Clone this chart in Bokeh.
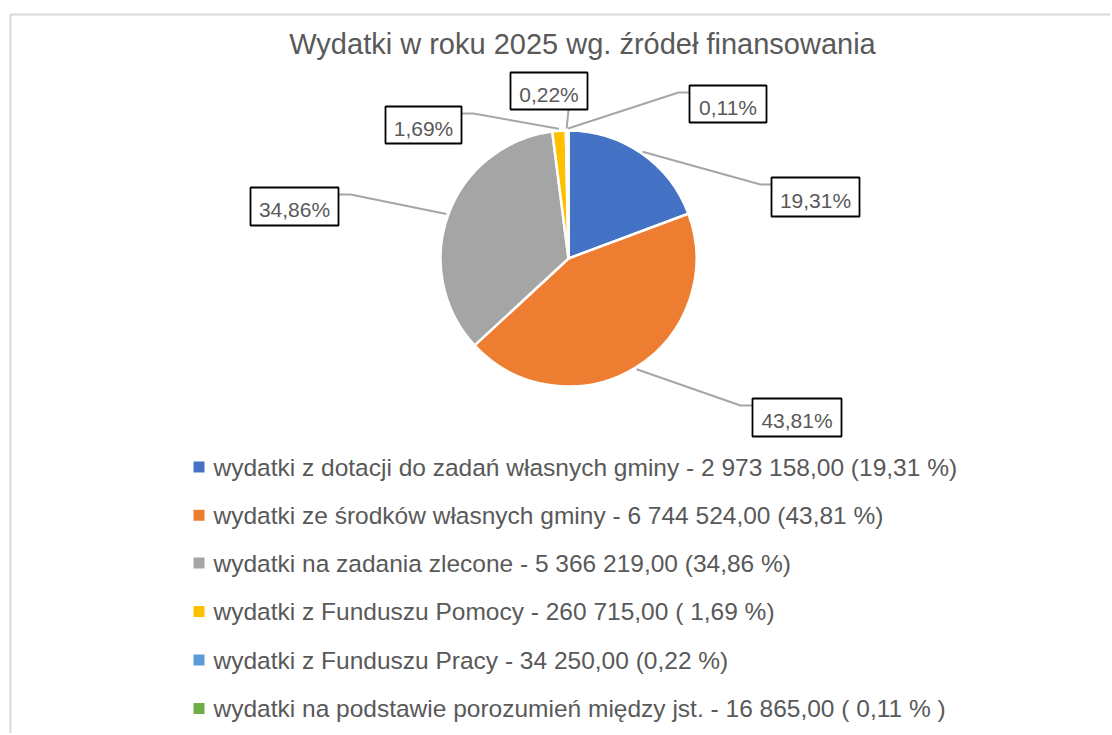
import math
from bokeh.plotting import figure
from bokeh.models import Range1d
from bokeh.embed import file_html
from bokeh.resources import INLINE
from bokeh.core.properties import value

# ---------------- data ----------------
title_text = "Wydatki w roku 2025 wg. źródeł finansowania"
categories = [
    "wydatki z dotacji do zadań własnych gminy",
    "wydatki ze środków własnych gminy",
    "wydatki na zadania zlecone",
    "wydatki z Funduszu Pomocy",
    "wydatki z Funduszu Pracy",
    "wydatki na podstawie porozumień między jst.",
]
amounts = [2973158.00, 6744524.00, 5366219.00, 260715.00, 34250.00, 16865.00]
percent_labels = ["19,31%", "43,81%", "34,86%", "1,69%", "0,22%", "0,11%"]
legend_labels = [
    "wydatki z dotacji do zadań własnych gminy -  2 973 158,00  (19,31 %)",
    "wydatki ze środków własnych gminy - 6 744 524,00 (43,81 %)",
    "wydatki na zadania zlecone  - 5 366 219,00  (34,86 %)",
    "wydatki z Funduszu Pomocy - 260 715,00 ( 1,69 %)",
    "wydatki z Funduszu Pracy - 34 250,00  (0,22 %)",
    "wydatki na podstawie porozumień między jst. - 16 865,00 ( 0,11 % )",
]
colors = ["#4472C4", "#ED7D31", "#A5A5A5", "#FFC000", "#5B9BD5", "#70AD47"]

# ---------------- layout ----------------
W, H = 1110, 733
OFF = 0
def X(sx):
    return sx - OFF
def Y(sy):
    return (H + OFF) - sy

FONT = "Liberation Sans"
TXT = "#595959"
TS = 7  # text baseline correction

p = figure(width=W, height=H, x_range=Range1d(0, W), y_range=Range1d(0, H),
           output_backend="svg", toolbar_location=None, min_border=0,
           x_axis_location=None, y_axis_location=None, outline_line_color=None)
p.grid.visible = False
p.background_fill_color = "white"
p.border_fill_color = "white"

# chart-area frame (partially visible)
p.line([X(10), X(10), X(1300)], [Y(900), Y(14), Y(14)], line_color="#D9D9D9", line_width=2)

# title
p.text(x=[X(582)], y=[Y(50 - TS)], text=[title_text], text_font=value(FONT),
       text_font_size="29px", text_color=TXT, text_align="center", text_baseline="alphabetic")

# pie
cx, cy, R = X(568), Y(258), 128
total = sum(amounts)
fr = [a / total for a in amounts]
starts, ends, mids = [], [], []
cum = 0.0
for f in fr:
    s = math.pi / 2 - 2 * math.pi * cum
    e = math.pi / 2 - 2 * math.pi * (cum + f)
    starts.append(s); ends.append(e); mids.append((s + e) / 2)
    cum += f
p.wedge(x=[cx] * len(fr), y=[cy] * len(fr), radius=R, start_angle=starts, end_angle=ends,
        direction="clock", fill_color=colors, line_color="white", line_width=2.5)

# data labels: box (left, top, right, bottom) in screen px, elbow point, attach point
boxes = [
    (771, 177, 859, 216),
    (752, 398, 841, 436),
    (250, 187, 338, 225),
    (385, 106, 461, 143),
    (510, 72, 587, 109),
    (689, 85, 766, 122),
]
elbows = [(760, 184), (740, 405), (350, 194), (473, 113), (568, 109), (678, 92)]
attach = [(771, 184), (752, 405), (338, 194), (461, 113), (568, 109), (689, 92)]
RL = 130
for i in range(len(fr)):
    ex = cx + RL * math.cos(mids[i])
    ey = cy + RL * math.sin(mids[i])
    p.line([ex, X(elbows[i][0]), X(attach[i][0])], [ey, Y(elbows[i][1]), Y(attach[i][1])],
           line_color="#A6A6A6", line_width=2)

p.quad(left=[X(b[0]) for b in boxes], right=[X(b[2]) for b in boxes],
       top=[Y(b[1]) for b in boxes], bottom=[Y(b[3]) for b in boxes],
       fill_color="white", line_color="black", line_width=1.8)
p.text(x=[X((b[0] + b[2]) / 2) for b in boxes], y=[Y((b[1] + b[3]) / 2 + 10 - TS) for b in boxes],
       text=percent_labels, text_font=value(FONT), text_font_size="21px", text_color=TXT,
       text_align="center", text_baseline="alphabetic")

# legend
row_y = [466.5, 514.7, 562.5, 611, 659.5, 708]
p.rect(x=[X(198.5)] * len(row_y), y=[Y(r) for r in row_y], width=11, height=11,
       fill_color=colors, line_color=None)
p.text(x=[X(213)] * len(row_y), y=[Y(r + 7 - TS) for r in row_y], text=legend_labels,
       text_font=value(FONT), text_font_size="24.5px", text_color=TXT,
       text_align="left", text_baseline="alphabetic")

open("out.html", "w").write(file_html(p, INLINE))
